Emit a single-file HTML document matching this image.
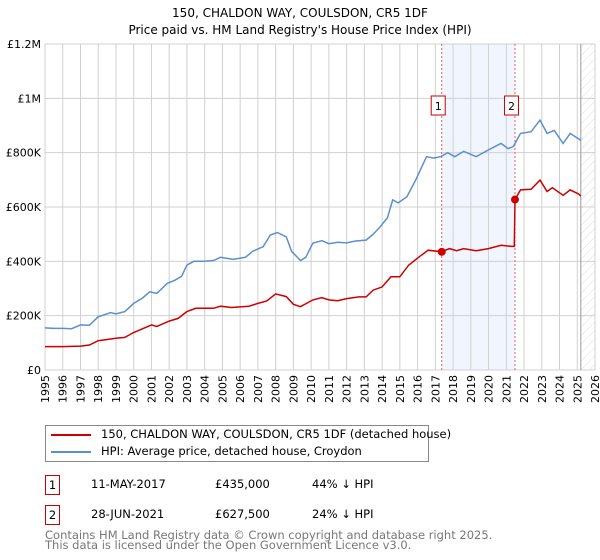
<!DOCTYPE html>
<html><head><meta charset="utf-8"><style>
body{margin:0;background:#fff;font-family:"DejaVu Sans","Liberation Sans",sans-serif;}
#wrap{position:relative;width:600px;height:560px;overflow:hidden;}
svg text{font-family:"DejaVu Sans","Liberation Sans",sans-serif;}
</style></head><body><div id="wrap">
<svg id="chart" width="600" height="560">
<defs><pattern id="hatch" width="6" height="6" patternUnits="userSpaceOnUse" patternTransform="rotate(45)"><line x1="0" y1="0" x2="0" y2="6" stroke="#ddd" stroke-width="1"/></pattern></defs>
<text x="300" y="17" text-anchor="middle" font-size="12" fill="#000">150, CHALDON WAY, COULSDON, CR5 1DF</text>
<text x="300" y="34" text-anchor="middle" font-size="12" fill="#000">Price paid vs. HM Land Registry's House Price Index (HPI)</text>
<g id="grid"></g><g id="marks"></g><g id="axes"></g>
</svg>
<div style="position:absolute;left:45px;top:425px;width:382px;height:35px;border:1px solid #888;font-size:11.5px;">
 <div style="position:absolute;left:5px;top:8px;width:40px;height:2px;background:#cc0000"></div>
 <div style="position:absolute;left:55px;top:1px;white-space:nowrap">150, CHALDON WAY, COULSDON, CR5 1DF (detached house)</div>
 <div style="position:absolute;left:5px;top:25px;width:40px;height:2px;background:#5b8fd1"></div>
 <div style="position:absolute;left:55px;top:18px;white-space:nowrap">HPI: Average price, detached house, Croydon</div>
</div>
<div style="position:absolute;left:45px;top:475px;width:13px;height:18px;border:1px solid #cc0000;font-size:11.5px;text-align:center;line-height:18px">1</div>
<div style="position:absolute;left:91px;top:477px;font-size:11.5px">11-MAY-2017</div>
<div style="position:absolute;left:215px;top:477px;font-size:11.5px">£435,000</div>
<div style="position:absolute;left:312px;top:477px;font-size:11.5px">44% ↓ HPI</div>
<div style="position:absolute;left:45px;top:505px;width:13px;height:18px;border:1px solid #cc0000;font-size:11.5px;text-align:center;line-height:18px">2</div>
<div style="position:absolute;left:91px;top:507px;font-size:11.5px">28-JUN-2021</div>
<div style="position:absolute;left:215px;top:507px;font-size:11.5px">£627,500</div>
<div style="position:absolute;left:312px;top:507px;font-size:11.5px">24% ↓ HPI</div>
<div style="position:absolute;left:45px;top:530px;font-size:11.5px;color:#777;line-height:10px;white-space:nowrap">Contains HM Land Registry data © Crown copyright and database right 2025.<br>This data is licensed under the Open Government Licence v3.0.</div>
</div>
<script>
const yTicks=[0,200,400,600,800,1000,1200];
const yTickLabels=["£0","£200K","£400K","£600K","£800K","£1M","£1.2M"];
const xYears=[1995,1996,1997,1998,1999,2000,2001,2002,2003,2004,2005,2006,2007,2008,2009,2010,2011,2012,2013,2014,2015,2016,2017,2018,2019,2020,2021,2022,2023,2024,2025,2026];
const hpiYears=[1995.0,1995.5,1996.0,1996.5,1997.0,1997.5,1998.0,1998.7,1999.0,1999.5,2000.0,2000.5,2000.9,2001.3,2001.9,2002.3,2002.7,2003.0,2003.4,2004.0,2004.5,2004.9,2005.6,2006.3,2006.7,2007.3,2007.7,2008.1,2008.6,2008.9,2009.4,2009.7,2010.1,2010.6,2011.0,2011.5,2012.0,2012.5,2013.1,2013.5,2013.9,2014.3,2014.6,2014.9,2015.4,2015.9,2016.5,2016.9,2017.3,2017.7,2018.1,2018.6,2019.3,2020.0,2020.7,2021.1,2021.4,2021.8,2022.4,2022.9,2023.3,2023.7,2024.2,2024.6,2025.1,2025.2];
const hpiValues=[155,153,153,152,166,165,196,211,207,215,245,265,288,282,319,330,345,386,400,400,403,415,407,415,437,454,497,506,490,437,403,415,467,476,465,470,468,475,478,500,528,560,626,615,638,700,785,780,785,800,785,805,785,810,834,815,823,871,877,920,871,882,834,871,850,845];
const pricePaidYears=[1995.0,1996.0,1997.0,1997.5,1998.0,1999.0,1999.5,2000.0,2001.0,2001.3,2002.0,2002.5,2003.0,2003.5,2004.5,2004.9,2005.5,2006.5,2007.0,2007.5,2008.0,2008.6,2009.0,2009.4,2010.1,2010.6,2011.0,2011.5,2012.0,2012.7,2013.1,2013.5,2014.0,2014.5,2015.0,2015.5,2016.1,2016.6,2017.36,2017.8,2018.2,2018.6,2019.3,2020.0,2020.7,2021.3,2021.45,2021.49,2021.8,2022.4,2022.9,2023.3,2023.6,2024.2,2024.6,2025.1,2025.2];
const pricePaidValues=[86,86,88,92,108,117,120,138,166,160,180,190,215,227,227,235,230,235,245,254,280,270,242,233,258,266,258,255,263,269,269,294,306,343,343,386,417,441,435,447,439,447,439,447,459,455,455,627.5,663,665,699,657,671,643,663,647,640];
const saleYears=[2017.36,2021.49];
const saleValues=[435,627.5];
const saleLabels=["1","2"];
const X0=45,X1=595,Y0=370,Y1=44;
const xs=y=>X0+(y-1995)/(2026-1995)*(X1-X0);
const ys=v=>Y0-v/1200*(Y0-Y1);
const NS="http://www.w3.org/2000/svg";
function mk(tag,attrs,parent){const e=document.createElementNS(NS,tag);for(const k in attrs)e.setAttribute(k,attrs[k]);parent.appendChild(e);return e;}
const grid=document.getElementById('grid'),marks=document.getElementById('marks'),axes=document.getElementById('axes');
let r=mk('rect',{x:xs(saleYears[0]),y:Y1,width:xs(saleYears[1])-xs(saleYears[0]),height:Y0-Y1,fill:'#eef3fc',opacity:0.8},grid);


let h=mk('rect',{x:xs(2025.2),y:Y1,width:X1-xs(2025.2),height:Y0-Y1,fill:'url(#hatch)'},grid);


xYears.forEach(y=>{let l=mk('line',{x1:xs(y),x2:xs(y),y1:Y1,y2:Y0,stroke:'#d0d0d0'},grid);


let t=mk('text',{x:0,y:0,'font-size':11,'text-anchor':'end',transform:`translate(${xs(y)+4},${Y0+5}) rotate(-90)`},axes);t.textContent=y;

});
yTicks.forEach((v,i)=>{let l=mk('line',{x1:X0,x2:X1,y1:ys(v),y2:ys(v),stroke:'#d0d0d0'},grid);


let t=mk('text',{x:X0-4,y:ys(v)+4,'font-size':11,'text-anchor':'end'},axes);t.textContent=yTickLabels[i];

});
let vl=mk('line',{x1:xs(2025.2),x2:xs(2025.2),y1:Y1,y2:Y0,stroke:'#999',"stroke-width":1},grid);


saleYears.forEach((s,i)=>{let l=mk('line',{x1:xs(s),x2:xs(s),y1:Y1,y2:Y0,stroke:'#e06060','stroke-dasharray':'2,2'},marks);

});
const path=(xa,va)=>xa.map((y,i)=>(i?'L':'M')+xs(y).toFixed(1)+','+ys(va[i]).toFixed(1)).join('');
let hp=mk('path',{d:path(hpiYears,hpiValues),fill:'none',stroke:'#5b8fd1','stroke-width':1.5},marks);


let pp=mk('path',{d:path(pricePaidYears,pricePaidValues),fill:'none',stroke:'#cc0000','stroke-width':1.5},marks);


saleYears.forEach((s,i)=>{let c=mk('circle',{cx:xs(s),cy:ys(saleValues[i]),r:4,fill:'#cc0000'},marks);


let b=mk('rect',{x:xs(s)-10.5,y:96,width:14,height:19,fill:'#fff',stroke:'#cc0000'},marks);


let t=mk('text',{x:xs(s)-3.5,y:110,'font-size':11,'text-anchor':'middle'},marks);t.textContent=saleLabels[i];

});
</script></body></html>
